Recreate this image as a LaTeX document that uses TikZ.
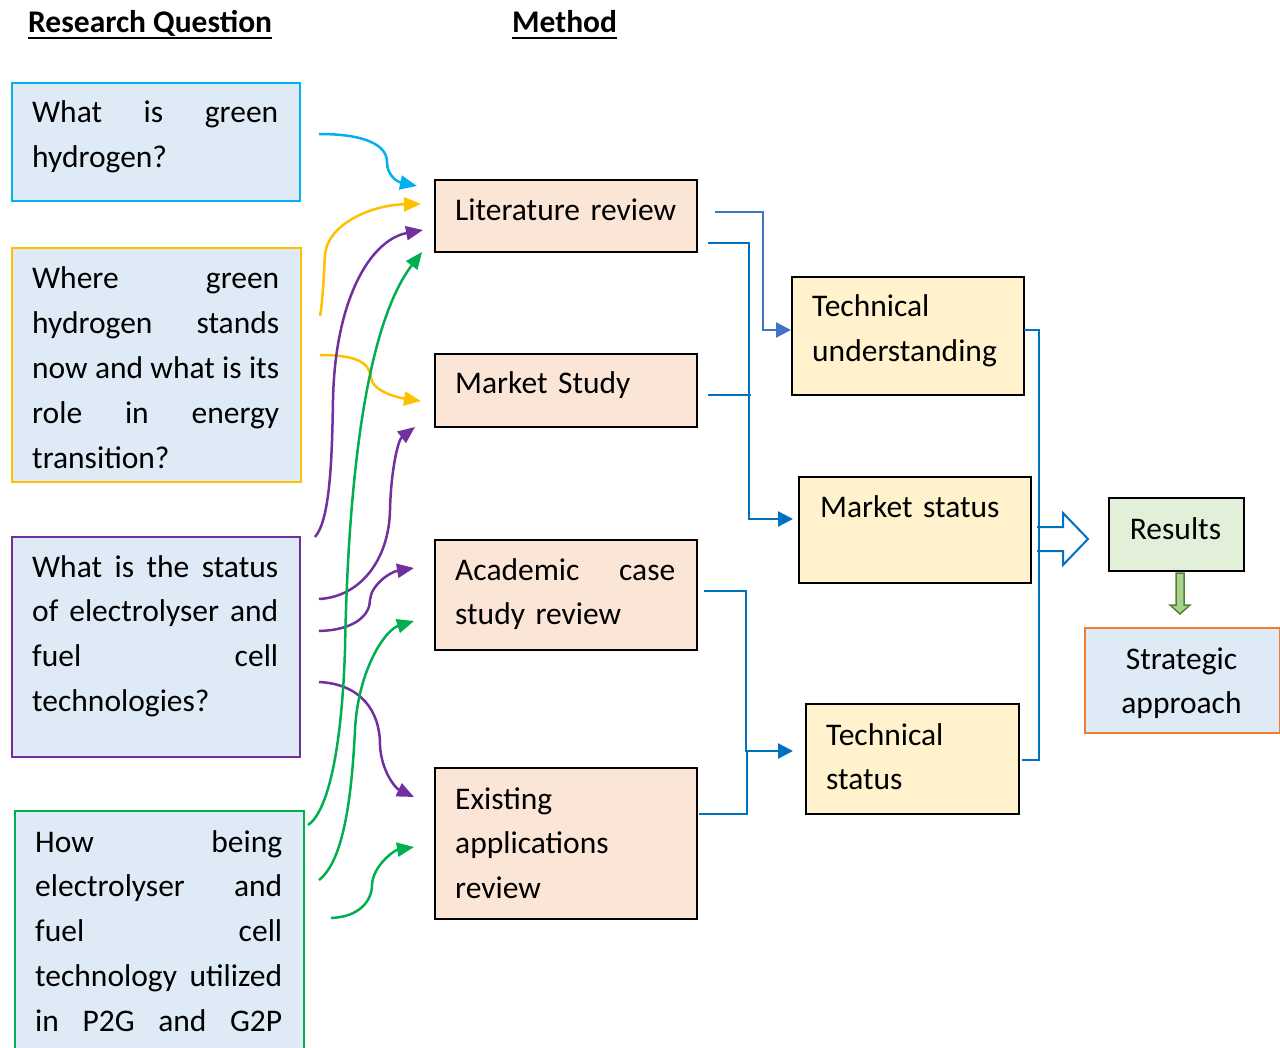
\documentclass[tikz,border=0pt]{standalone}
\usepackage{fontspec}
\setmainfont{Carlito}
\usetikzlibrary{arrows.meta,calc}
\definecolor{qfill}{HTML}{DEEBF7}
\definecolor{cyb}{HTML}{00B0F0}
\definecolor{yeb}{HTML}{FFC000}
\definecolor{pub}{HTML}{7030A0}
\definecolor{grb}{HTML}{00B050}
\definecolor{mfill}{HTML}{FBE5D6}
\definecolor{yfill}{HTML}{FFF2CC}
\definecolor{rfill}{HTML}{E2F0D9}
\definecolor{orb}{HTML}{ED7D31}
\definecolor{lnA}{HTML}{4472C4}
\definecolor{lnB}{HTML}{0070C0}
\definecolor{garr}{HTML}{A9D18E}
\definecolor{garrb}{HTML}{548235}
\newcommand\J{\hskip 0.226em plus 1fill\relax}
\begin{document}
\begin{tikzpicture}[x=1pt,y=-1pt,
  bx/.style 2 args={rectangle, anchor=north west, inner sep=0pt,
    minimum width=#1, minimum height=#2, line width=2pt},
  qcol/.style={fill=qfill, draw=#1},
  mbox/.style={fill=mfill, draw=black},
  ybox/.style={fill=yfill, draw=black},
  txt/.style={anchor=base west, inner sep=0pt, align=left, text width=#1,
    font=\fontsize{31.5}{44.8}\selectfont},
  ctxt/.style={anchor=base, inner sep=0pt, align=center, text width=#1,
    font=\fontsize{31.5}{44.8}\selectfont},
  head/.style={anchor=base west, inner sep=0pt, font=\fontsize{31.5}{38}\selectfont\bfseries},
  curve/.style={line width=2.5pt, draw=#1, -{Triangle[length=17pt,width=14pt,fill=#1]}},
  elbow/.style={line width=2.5pt, draw=#1},
  tip/.style={-{Triangle[length=15pt,width=15pt]}},
]
\useasboundingbox (0,0) rectangle (1280,1048);
\fill[white] (0,0) rectangle (1280,1048);

% headings
\node[head] (rq) at (28,33) {Research Question};
\node[head] (me) at (512,33) {Method};
\draw[line width=2.2pt] ([yshift=-5pt]rq.base west) -- ([yshift=-5pt]rq.base east);
\draw[line width=2.2pt] ([yshift=-5pt]me.base west) -- ([yshift=-5pt]me.base east);

% research question boxes
\node[bx={288pt}{118pt}, qcol=cyb] (q1) at (11,82) {};
\node[bx={289pt}{234pt}, qcol=yeb] (q2) at (11,247) {};
\node[bx={288pt}{220pt}, qcol=pub] (q3) at (11,536) {};
\node[bx={287pt}{240pt}, fill=qfill] (q4) at (15,811) {};
\draw[line width=2pt, grb] (q4.south west) -- (q4.north west) -- (q4.north east) -- (q4.south east);

\node[txt=246pt] (q1t) at (32,123) {What\J is\J green\\hydrogen?};
\node[txt=247pt] (q2t) at (32,289) {Where\J green\\hydrogen\J stands\\now\J and\J what\J is\J its\\role\J in\J energy\\transition?};
\node[txt=246pt] (q3t) at (32,577) {What\J is\J the\J status\\of\J electrolyser\J and\\fuel\J cell\\technologies?};
\node[txt=247pt] (q4t) at (35,852) {How\J being\\electrolyser\J and\\fuel\J cell\\technology\J utilized\\\hbox to 247pt{in\J P2G\J and\J G2P}};

% method boxes
\node[bx={262pt}{72pt}, mbox] (lit) at (434,179) {};
\node[bx={262pt}{73pt}, mbox] (mst) at (434,353) {};
\node[bx={262pt}{110pt}, mbox] (acad) at (434,539) {};
\node[bx={262pt}{151pt}, mbox] (exist) at (434,767) {};
\node[txt=230pt] (litt) at (455,221) {Literature review};
\node[txt=230pt] (mstt) at (455,394) {Market Study};
\node[txt=220pt] (acadt) at (455,580) {Academic\J case\\study review};
\node[txt=220pt] (existt) at (455,809) {Existing\\applications\\review};

% outcome boxes
\node[bx={232pt}{118pt}, ybox] (tu) at (791,276) {};
\node[bx={232pt}{106pt}, ybox] (ms) at (798,476) {};
\node[bx={213pt}{110pt}, ybox] (ts) at (805,703) {};
\node[txt=205pt] (tut) at (812,317) {Technical\\understanding};
\node[txt=205pt] (mst2) at (820,517) {Market status};
\node[txt=185pt] (tst) at (826,745) {Technical\\status};

\node[bx={135pt}{73pt}, fill=rfill, draw=black] (res) at (1108,497) {};
\node[ctxt=130pt] (rest) at (1175.5,539) {Results};
\node[bx={195pt}{105pt}, fill=qfill, draw=orb] (sa) at (1084,627) {};
\node[ctxt=190pt] (sat) at (1181.5,669) {Strategic\\approach};

% open block arrow to results
\draw[line width=2pt, draw=lnB, fill=white, line join=miter]
  (1037,527) -- (1063,527) -- (1063,513) -- (1088,539) -- (1063,565) -- (1063,551) -- (1037,551);

% elbow connectors
\draw[elbow=lnA, tip] ([xshift=17pt,yshift=4pt]lit.east) -| ([xshift=-28pt,yshift=6pt]tu.west) -- ([yshift=6pt]tu.west);
\draw[elbow=lnB, tip] ([xshift=10pt,yshift=-27pt]lit.east) -| ([xshift=-49pt,yshift=11pt]ms.west) -- ([xshift=-5pt,yshift=11pt]ms.west);
\draw[elbow=lnB] ([xshift=10pt,yshift=-4.5pt]mst.east) -- ++(43,0);
\draw[elbow=lnB, tip] ([xshift=6pt,yshift=4pt]acad.east) -| ([xshift=-59pt,yshift=8pt]ts.west) -- ([xshift=-12pt,yshift=8pt]ts.west);
\draw[elbow=lnB] ([xshift=1pt,yshift=29.5pt]exist.east) -| ++(48,-63);
\draw[elbow=lnB] ([xshift=-1pt,yshift=6pt]tu.east) -- ++(15,0) |- ([xshift=2pt,yshift=-1pt]ts.east);

% green arrow results -> strategic approach
\draw[line width=1.5pt, draw=garrb, fill=garr, line join=miter]
  (1176,573) -- (1184,573) -- (1184,605) -- (1190,605) -- (1180,614) -- (1170,605) -- (1176,605) -- cycle;

% curved connectors
\draw[curve=cyb] (319,134) .. controls (365,134) and (387,145) .. (387,162) .. controls (387,176) and (398,182) .. (417,186);
\draw[curve=yeb] (320,316) .. controls (323,300) and (324,270) .. (325,255) .. controls (327,225) and (370,205) .. (421,204);
\draw[curve=yeb] (320,355) .. controls (355,355) and (370,362) .. (371,378) .. controls (373,392) and (400,398) .. (421,401);
\draw[curve=pub] (315,537) .. controls (330,520) and (332,460) .. (333,400) .. controls (335,300) and (370,240) .. (423,230);
\draw[curve=pub] (319,599) .. controls (360,597) and (389,560) .. (390,510) .. controls (391,470) and (398,440) .. (415,427);
\draw[curve=pub] (319,631) .. controls (355,630) and (370,615) .. (370,600) .. controls (371,585) and (390,572) .. (414,568);
\draw[curve=pub] (319,682) .. controls (360,684) and (380,710) .. (380,745) .. controls (381,770) and (395,788) .. (414,797);
\draw[curve=grb] (308,825) .. controls (330,810) and (342,740) .. (345,650) .. controls (348,480) and (366,325) .. (422,252);
\draw[curve=grb] (319,880) .. controls (345,860) and (352,790) .. (355,730) .. controls (358,670) and (385,630) .. (414,621);
\draw[curve=grb] (331,918) .. controls (360,917) and (372,900) .. (372,885) .. controls (373,865) and (395,850) .. (414,847);
\end{tikzpicture}
\end{document}
